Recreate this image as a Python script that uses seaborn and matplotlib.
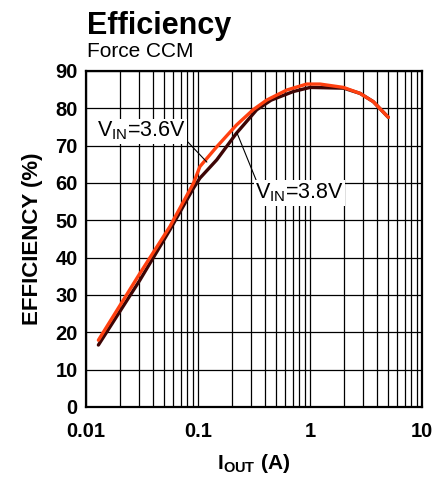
import matplotlib
matplotlib.use("Agg")
import matplotlib.pyplot as plt
import seaborn as sns
import pandas as pd
import numpy as np

# Data
iout_36 = [0.0129, 0.0303, 0.056, 0.091, 0.104, 0.147, 0.22, 0.31, 0.41, 0.62, 0.935, 1.23, 1.99, 2.8, 3.67, 5.0]
eff_36 = [17.9, 35.8, 48.3, 59.9, 64.4, 69.7, 75.5, 79.6, 82.2, 84.9, 86.5, 86.5, 85.6, 84.0, 81.8, 77.6]
iout_38 = [0.0129, 0.0303, 0.056, 0.091, 0.104, 0.147, 0.22, 0.334, 0.45, 0.71, 1.0, 2.0, 2.8, 3.67, 5.0]
eff_38 = [16.6, 34.0, 47.4, 58.6, 61.3, 66.2, 73.3, 79.6, 82.2, 84.5, 85.6, 85.4, 84.0, 81.8, 77.6]
series = ["VIN=3.8V", "VIN=3.6V"]
x_ticks = [0.01, 0.1, 1, 10]
x_ticklabels = ["0.01", "0.1", "1", "10"]
y_ticks = [0, 10, 20, 30, 40, 50, 60, 70, 80, 90]

df = pd.concat([
    pd.DataFrame({"I": iout_38, "E": eff_38, "s": series[0]}),
    pd.DataFrame({"I": iout_36, "E": eff_36, "s": series[1]}),
], ignore_index=True)

sns.set_style("white")
plt.rcParams["font.family"] = ["Liberation Sans", "DejaVu Sans"]
plt.rcParams["text.color"] = "black"
plt.rcParams["axes.labelcolor"] = "black"
plt.rcParams["xtick.color"] = "black"
plt.rcParams["ytick.color"] = "black"

fig = plt.figure(figsize=(4.46, 4.79), dpi=100)
ax = fig.add_axes([86/446, 1-407/479, 336/446, 336/479])

sns.lineplot(data=df, x="I", y="E", hue="s", hue_order=series,
             palette={series[0]: "#3d0505", series[1]: "#ff4010"},
             linewidth=2.4, legend=False, ax=ax, zorder=3, sort=False)

ax.set_xscale("log")
ax.set_xlim(0.01, 10)
ax.set_ylim(0, 90)
ax.set_xticks(x_ticks)
ax.set_xticklabels(x_ticklabels)
ax.set_yticks(y_ticks)
ax.xaxis.set_minor_locator(matplotlib.ticker.LogLocator(base=10, subs=np.arange(2, 10)))
ax.xaxis.set_minor_formatter(matplotlib.ticker.NullFormatter())
ax.grid(True, which="both", color="black", linewidth=0.9)
ax.set_axisbelow(True)
ax.tick_params(axis="both", which="both", length=0, colors="black")
ax.tick_params(axis="x", pad=11)
ax.tick_params(axis="y", pad=6)
for lab in ax.get_xticklabels() + ax.get_yticklabels():
    lab.set_fontsize(14.5)
    lab.set_fontweight("bold")
    lab.set_color("black")
for sp in ax.spines.values():
    sp.set_linewidth(1.6)
    sp.set_color("black")

ax.set_xlabel(r"I$_\mathregular{OUT}$ (A)", fontsize=15, fontweight="bold", labelpad=8, color="black")
ax.set_ylabel("EFFICIENCY (%)", fontsize=16, fontweight="bold", labelpad=9, color="black")

bbox = dict(facecolor="white", edgecolor="none", pad=1)
ax.annotate(r"V$_\mathregular{IN}$=3.6V", xy=(0.12, 65.6), xytext=(0.0125, 73.9),
            fontsize=15.5, va="center", ha="left", bbox=bbox, color="black",
            arrowprops=dict(arrowstyle="-", color="black", lw=0.8, relpos=(0.98, 0.2),
                            shrinkA=0, shrinkB=0), zorder=4)
ax.annotate(r"V$_\mathregular{IN}$=3.8V", xy=(0.223, 73.4), xytext=(0.323, 57.3),
            fontsize=15.5, va="center", ha="left", bbox=bbox, color="black",
            arrowprops=dict(arrowstyle="-", color="black", lw=0.8, relpos=(0.02, 1.0),
                            shrinkA=0, shrinkB=0), zorder=4)

fig.text(87/446, 1-34/479, "Efficiency", fontsize=22, fontweight="bold", ha="left", va="baseline", color="black")
fig.text(87/446, 1-57/479, "Force CCM", fontsize=15, ha="left", va="baseline", color="black")

fig.savefig("out.png", dpi=100)
